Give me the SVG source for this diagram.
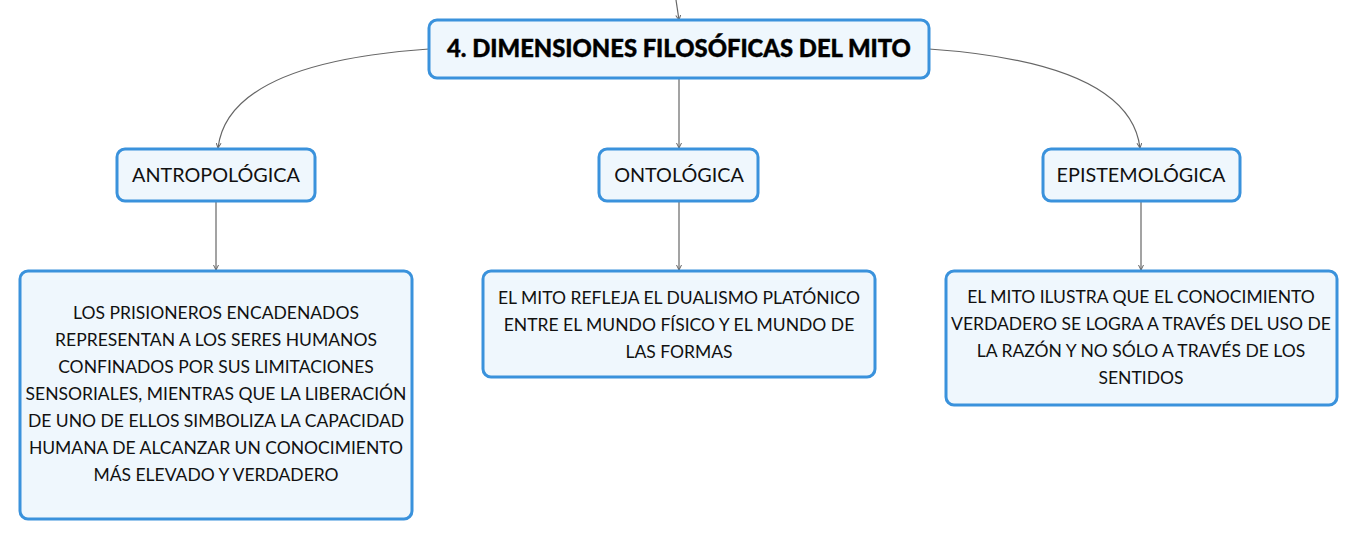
<svg xmlns="http://www.w3.org/2000/svg" width="1359" height="540" viewBox="0 0 1359 540">
<style>
.box{fill:#eff7fd;stroke:#3a92dc;stroke-width:3}
.t{font-family:Lato,"Noto Sans",sans-serif;font-size:17.5px;fill:#111;text-anchor:middle}
.h{font-family:Lato,"Noto Sans",sans-serif;font-size:19.8px;fill:#111;text-anchor:middle}
.title{font-family:Lato,"Noto Sans",sans-serif;font-size:23.8px;font-weight:900;fill:#000;text-anchor:middle;stroke:#000;stroke-width:0.4}
.c{fill:none;stroke:#666;stroke-width:1.2;marker-end:url(#a)}
</style>
<defs>
<marker id="a" viewBox="0 0 6 6" refX="5" refY="3" markerWidth="6" markerHeight="6" markerUnits="userSpaceOnUse" orient="auto">
<path d="M0,0.5 L5,3 L0,5.5" fill="none" stroke="#666" stroke-width="1"/>
</marker>
</defs>
<g id="connectors">
<path class="c" d="M676,0 L679,20"/>
<path class="c" d="M429,49 C300,58 225,90 218,148"/>
<path class="c" d="M679,78 L679,148"/>
<path class="c" d="M929,49 C1058,58 1133,90 1140,148"/>
<path class="c" d="M216,201 L216,270"/>
<path class="c" d="M679,201 L679,270"/>
<path class="c" d="M1141,201 L1141,270"/>
</g>
<g id="n-title">
<rect class="box" x="429" y="20" width="500" height="58" rx="8"/>
<text class="title" x="679" y="57">4. DIMENSIONES FILOSÓFICAS DEL MITO</text>
</g>
<g id="n-antro">
<rect class="box" x="117" y="149" width="198" height="52" rx="8"/>
<text class="h" x="216" y="182">ANTROPOLÓGICA</text>
</g>
<g id="n-onto">
<rect class="box" x="599" y="149" width="159" height="52" rx="8"/>
<text class="h" x="679" y="182">ONTOLÓGICA</text>
</g>
<g id="n-epis">
<rect class="box" x="1043" y="149" width="197" height="52" rx="8"/>
<text class="h" x="1141" y="182">EPISTEMOLÓGICA</text>
</g>
<g id="n-antro-d">
<rect class="box" x="20" y="271" width="392" height="248" rx="8"/>
<text class="t" x="216" y="319">LOS PRISIONEROS ENCADENADOS</text>
<text class="t" x="216" y="346">REPRESENTAN A LOS SERES HUMANOS</text>
<text class="t" x="216" y="373">CONFINADOS POR SUS LIMITACIONES</text>
<text class="t" x="216" y="400">SENSORIALES, MIENTRAS QUE LA LIBERACIÓN</text>
<text class="t" x="216" y="427">DE UNO DE ELLOS SIMBOLIZA LA CAPACIDAD</text>
<text class="t" x="216" y="454">HUMANA DE ALCANZAR UN CONOCIMIENTO</text>
<text class="t" x="216" y="481">MÁS ELEVADO Y VERDADERO</text>
</g>
<g id="n-onto-d">
<rect class="box" x="483" y="271" width="392" height="106" rx="8"/>
<text class="t" x="679" y="304">EL MITO REFLEJA EL DUALISMO PLATÓNICO</text>
<text class="t" x="679" y="331">ENTRE EL MUNDO FÍSICO Y EL MUNDO DE</text>
<text class="t" x="679" y="358">LAS FORMAS</text>
</g>
<g id="n-epis-d">
<rect class="box" x="946" y="271" width="391" height="134" rx="8"/>
<text class="t" x="1141" y="303">EL MITO ILUSTRA QUE EL CONOCIMIENTO</text>
<text class="t" x="1141" y="330">VERDADERO SE LOGRA A TRAVÉS DEL USO DE</text>
<text class="t" x="1141" y="357">LA RAZÓN Y NO SÓLO A TRAVÉS DE LOS</text>
<text class="t" x="1141" y="384">SENTIDOS</text>
</g>
</svg>
